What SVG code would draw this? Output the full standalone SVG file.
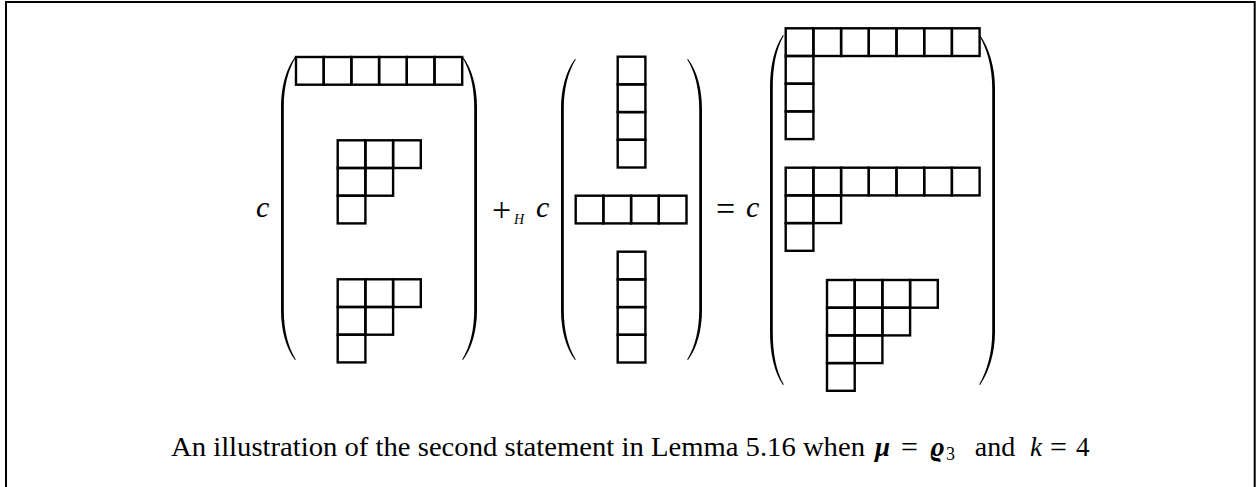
<svg xmlns="http://www.w3.org/2000/svg" width="1259" height="487" viewBox="0 0 1259 487">
<style>
.cell{fill:none;stroke:#000;stroke-width:2.4}
.par{fill:#000;stroke:none}
.t{font-family:"Liberation Serif","DejaVu Serif",serif;fill:#000}
.it{font-style:italic}
.bi{font-style:italic;font-weight:bold}
</style>
<rect x="6" y="2" width="1248.7" height="495" fill="none" stroke="#000" stroke-width="2"/>
<g id="matrix1">
<path class="par" d="M295,57 C286,69 281,87 281,107 L281,310 C281,330 286,348 295,360 L295.8,359.4 C288,347 283.8,330 283.8,310 L283.8,107 C283.8,87 288,70 295.8,57.6 Z"/>
<path class="par" d="M463,57 C472,69 477,87 477,107 L477,310 C477,330 472,348 463,360 L462.2,359.4 C470,347 474.2,330 474.2,310 L474.2,107 C474.2,87 470,70 462.2,57.6 Z"/>
<g id="m1-row6">
<rect class="cell" x="296" y="57" width="27.7" height="27.7"/><rect class="cell" x="323.7" y="57" width="27.7" height="27.7"/><rect class="cell" x="351.4" y="57" width="27.7" height="27.7"/><rect class="cell" x="379.1" y="57" width="27.7" height="27.7"/><rect class="cell" x="406.8" y="57" width="27.7" height="27.7"/><rect class="cell" x="434.5" y="57" width="27.7" height="27.7"/>
</g>
<g id="m1-shape321a">
<rect class="cell" x="337.7" y="140.3" width="27.7" height="27.7"/><rect class="cell" x="365.4" y="140.3" width="27.7" height="27.7"/><rect class="cell" x="393.1" y="140.3" width="27.7" height="27.7"/>
<rect class="cell" x="337.7" y="168" width="27.7" height="27.7"/><rect class="cell" x="365.4" y="168" width="27.7" height="27.7"/>
<rect class="cell" x="337.7" y="195.7" width="27.7" height="27.7"/>
</g>
<g id="m1-shape321b">
<rect class="cell" x="337.7" y="279.3" width="27.7" height="27.7"/><rect class="cell" x="365.4" y="279.3" width="27.7" height="27.7"/><rect class="cell" x="393.1" y="279.3" width="27.7" height="27.7"/>
<rect class="cell" x="337.7" y="307" width="27.7" height="27.7"/><rect class="cell" x="365.4" y="307" width="27.7" height="27.7"/>
<rect class="cell" x="337.7" y="334.7" width="27.7" height="27.7"/>
</g>
</g>
<g id="coef1"><text class="t it" x="256" y="217" font-size="30">c</text></g>
<g id="plusH">
<text class="t" x="492" y="221" font-size="34">+</text>
<text class="t it" x="514" y="224" font-size="14">H</text>
<text class="t it" x="536" y="217" font-size="30">c</text>
</g>
<g id="matrix2">
<path class="par" d="M575,59 C566,71 561,89 561,109 L561,310 C561,330 566,348 575,360 L575.8,359.4 C568,347 563.8,330 563.8,310 L563.8,109 C563.8,89 568,72 575.8,59.6 Z"/>
<path class="par" d="M688,59 C697,71 702,89 702,109 L702,310 C702,330 697,348 688,360 L687.2,359.4 C695,347 699.2,330 699.2,310 L699.2,109 C699.2,89 695,72 687.2,59.6 Z"/>
<g id="m2-col4a">
<rect class="cell" x="617.7" y="56.7" width="27.7" height="27.7"/><rect class="cell" x="617.7" y="84.4" width="27.7" height="27.7"/><rect class="cell" x="617.7" y="112.1" width="27.7" height="27.7"/><rect class="cell" x="617.7" y="139.8" width="27.7" height="27.7"/>
</g>
<g id="m2-row4">
<rect class="cell" x="575.7" y="195.7" width="27.7" height="27.7"/><rect class="cell" x="603.4" y="195.7" width="27.7" height="27.7"/><rect class="cell" x="631.1" y="195.7" width="27.7" height="27.7"/><rect class="cell" x="658.8" y="195.7" width="27.7" height="27.7"/>
</g>
<g id="m2-col4b">
<rect class="cell" x="617.7" y="251.7" width="27.7" height="27.7"/><rect class="cell" x="617.7" y="279.4" width="27.7" height="27.7"/><rect class="cell" x="617.7" y="307.1" width="27.7" height="27.7"/><rect class="cell" x="617.7" y="334.8" width="27.7" height="27.7"/>
</g>
</g>
<g id="equals">
<text class="t" x="716" y="220" font-size="34">=</text>
<text class="t it" x="746" y="217" font-size="30">c</text>
</g>
<g id="matrix3">
<path class="par" d="M783,35 C774,48 770,67 770,88 L770,332 C770,353 774,372 783,385 L783.8,384.4 C776,371 772.8,353 772.8,332 L772.8,88 C772.8,67 776,49 783.8,35.6 Z"/>
<path class="par" d="M980,35 C989,48 995,67 995,88 L995,332 C995,353 989,372 980,385 L979.2,384.4 C987,371 992.2,353 992.2,332 L992.2,88 C992.2,67 987,49 979.2,35.6 Z"/>
<g id="m3-shape7111">
<rect class="cell" x="785.7" y="28.3" width="27.7" height="27.7"/><rect class="cell" x="813.4" y="28.3" width="27.7" height="27.7"/><rect class="cell" x="841.1" y="28.3" width="27.7" height="27.7"/><rect class="cell" x="868.8" y="28.3" width="27.7" height="27.7"/><rect class="cell" x="896.5" y="28.3" width="27.7" height="27.7"/><rect class="cell" x="924.2" y="28.3" width="27.7" height="27.7"/><rect class="cell" x="951.9" y="28.3" width="27.7" height="27.7"/>
<rect class="cell" x="785.7" y="56" width="27.7" height="27.7"/><rect class="cell" x="785.7" y="83.7" width="27.7" height="27.7"/><rect class="cell" x="785.7" y="111.4" width="27.7" height="27.7"/>
</g>
<g id="m3-shape721">
<rect class="cell" x="785.7" y="167.7" width="27.7" height="27.7"/><rect class="cell" x="813.4" y="167.7" width="27.7" height="27.7"/><rect class="cell" x="841.1" y="167.7" width="27.7" height="27.7"/><rect class="cell" x="868.8" y="167.7" width="27.7" height="27.7"/><rect class="cell" x="896.5" y="167.7" width="27.7" height="27.7"/><rect class="cell" x="924.2" y="167.7" width="27.7" height="27.7"/><rect class="cell" x="951.9" y="167.7" width="27.7" height="27.7"/>
<rect class="cell" x="785.7" y="195.4" width="27.7" height="27.7"/><rect class="cell" x="813.4" y="195.4" width="27.7" height="27.7"/>
<rect class="cell" x="785.7" y="223.1" width="27.7" height="27.7"/>
</g>
<g id="m3-shape4321">
<rect class="cell" x="827" y="280" width="27.7" height="27.7"/><rect class="cell" x="854.7" y="280" width="27.7" height="27.7"/><rect class="cell" x="882.4" y="280" width="27.7" height="27.7"/><rect class="cell" x="910.1" y="280" width="27.7" height="27.7"/>
<rect class="cell" x="827" y="307.7" width="27.7" height="27.7"/><rect class="cell" x="854.7" y="307.7" width="27.7" height="27.7"/><rect class="cell" x="882.4" y="307.7" width="27.7" height="27.7"/>
<rect class="cell" x="827" y="335.4" width="27.7" height="27.7"/><rect class="cell" x="854.7" y="335.4" width="27.7" height="27.7"/>
<rect class="cell" x="827" y="363.1" width="27.7" height="27.7"/>
</g>
</g>
<g id="caption" class="t" font-size="27">
<text x="171" y="456" textLength="694" lengthAdjust="spacingAndGlyphs">An illustration of the second statement in Lemma 5.16 when</text>
<text class="bi" x="875" y="456">μ</text>
<text x="901" y="457" font-size="30">=</text>
<text class="bi" x="930" y="456">ϱ</text>
<text x="946" y="460" font-size="18">3</text>
<text x="995" y="456" font-size="28" text-anchor="middle">and</text>
<text class="it" x="1030" y="456">k</text>
<text x="1050" y="457" font-size="30">=</text>
<text x="1076" y="456">4</text>
</g>
</svg>
